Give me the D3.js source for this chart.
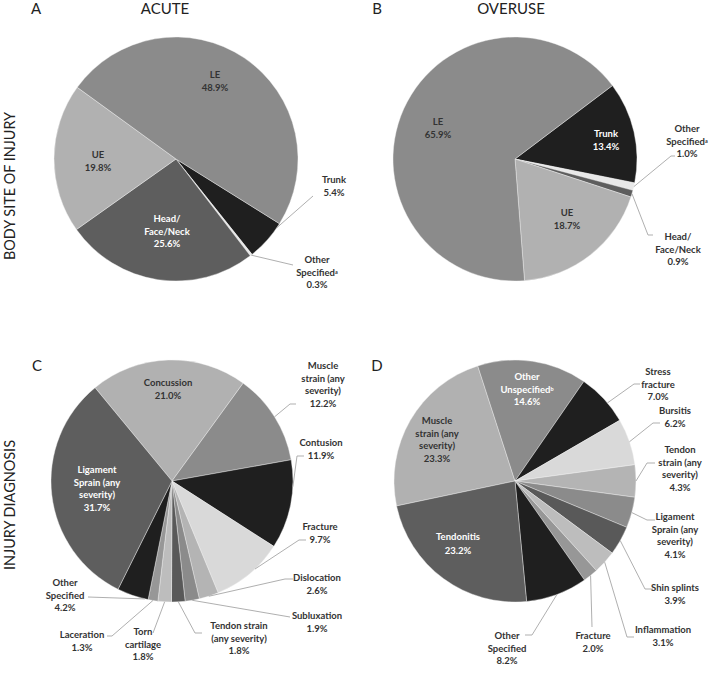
<!DOCTYPE html>
<html><head><meta charset="utf-8">
<script src="https://cdn.jsdelivr.net/npm/d3@7"></script>
<style>body{margin:0;background:#fff}svg{display:block}</style>
</head><body><svg id="chart" width="709" height="693"></svg>
<script>
// ---------- DATA ----------
const siteCategories = ["Trunk", "Other Specified", "Head/Face/Neck", "UE", "LE"];
const acuteSiteValues = [5.4, 0.3, 25.6, 19.8, 48.9];
const overuseSiteValues = [13.4, 1.0, 0.9, 18.7, 65.9];

const acuteDxCategories = ["Concussion", "Muscle strain (any severity)", "Contusion", "Fracture", "Dislocation",
  "Subluxation", "Tendon strain (any severity)", "Torn cartilage", "Laceration", "Other Specified", "Ligament Sprain (any severity)"];
const acuteDxValues = [21.0, 12.2, 11.9, 9.7, 2.6, 1.9, 1.8, 1.8, 1.3, 4.2, 31.7];

const overuseDxCategories = ["Muscle strain (any severity)", "Other Unspecified", "Stress fracture", "Bursitis",
  "Tendon strain (any severity)", "Ligament Sprain (any severity)", "Shin splints", "Inflammation", "Fracture", "Other Specified", "Tendonitis"];
const overuseDxValues = [23.3, 14.6, 7.0, 6.2, 4.3, 4.1, 3.9, 3.1, 2.0, 8.2, 23.2];

// label wording (line breaks as in the figure, ^ = superscript)
const acuteSiteLabels = [["Trunk"], ["Other", "Specified^a"], ["Head/", "Face/Neck"], ["UE"], ["LE"]];
const overuseSiteLabels = [["Trunk"], ["Other", "Specified^a"], ["Head/", "Face/Neck"], ["UE"], ["LE"]];
const acuteDxLabels = [["Concussion"], ["Muscle", "strain (any", "severity)"], ["Contusion"], ["Fracture"], ["Dislocation"],
  ["Subluxation"], ["Tendon strain", "(any severity)"], ["Torn", "cartilage"], ["Laceration"], ["Other", "Specified"], ["Ligament", "Sprain (any", "severity)"]];
const overuseDxLabels = [["Muscle", "strain (any", "severity)"], ["Other", "Unspecified^b"], ["Stress", "fracture"], ["Bursitis"],
  ["Tendon", "strain (any", "severity)"], ["Ligament", "Sprain (any", "severity)"], ["Shin splints"], ["Inflammation"], ["Fracture"], ["Other", "Specified"], ["Tendonitis"]];

// ---------- STYLE / LAYOUT ----------
const BLACK = "#1f1f1f", DARK = "#5e5e5e", MID = "#8b8b8b", LIGHT = "#b1b1b1", VLIGHT = "#d9d9d9", PALE = "#e8e8e8";
const siteShades = [BLACK, PALE, DARK, LIGHT, MID];
const dxShades = [LIGHT, MID, BLACK, VLIGHT, "#b4b4b4", MID, "#595959", "#bdbdbd", "#979797", BLACK, DARK];

// per-slice label layout: pos = text centre offset from pie centre; end = leader end; el = elbow length; fr = angle fraction
const panels = [
  { cx: 176, cy: 159, r: 122, start: 122, values: acuteSiteValues, cats: siteCategories, labels: acuteSiteLabels, shades: siteShades,
    lay: [ {pos: [158, 21], end: [137, 37], el: 0, fr: 0.12},
           {pos: [141, 101], end: [117, 106], el: 0, fr: 0.5},
           {pos: [-9, 60], white: true},
           {pos: [-78, -4]},
           {pos: [39, -84]} ] },
  { cx: 515, cy: 159, r: 122, start: 53, values: overuseSiteValues, cats: siteCategories, labels: overuseSiteLabels, shades: siteShades,
    lay: [ {pos: [91, -25], white: true},
           {pos: [172, -30], end: [160, -3], el: 4, fr: 0.5},
           {pos: [163, 78], end: [138, 76], el: 5, fr: 0.5},
           {pos: [52, 54]},
           {pos: [-77, -37]} ] },
  { cx: 172, cy: 481, r: 121, start: 320.5, values: acuteDxValues, cats: acuteDxCategories, labels: acuteDxLabels, shades: dxShades,
    lay: [ {pos: [-4, -98]},
           {pos: [151, -115], end: [124, -77], el: 6, fr: 0.5},
           {pos: [149, -38], end: [132, -25], el: 7, fr: 0.3},
           {pos: [148, 46], end: [134, 59], el: 7, fr: 0.4},
           {pos: [145, 97], end: [121, 98], el: 8, fr: 0.5},
           {pos: [145, 135], end: [118, 136], el: 0, fr: 0.5},
           {pos: [67, 145], end: [30, 152], el: 7, fr: 0.5},
           {pos: [-29, 151], end: [-19, 152], el: 0, fr: 0.5},
           {pos: [-90, 154], end: [-65, 155], el: 5, fr: 0.5},
           {pos: [-107, 102], end: [-84, 116], el: 0, fr: 0.1},
           {pos: [-75, -11], white: true} ] },
  { cx: 515, cy: 481, r: 121, start: 258.1, values: overuseDxValues, cats: overuseDxCategories, labels: overuseDxLabels, shades: dxShades,
    lay: [ {pos: [-78, -60]},
           {pos: [12, -104], white: true},
           {pos: [143, -109], end: [125, -97], el: 6, fr: 0.6},
           {pos: [160, -70], end: [145, -58], el: 7, fr: 0.5},
           {pos: [165, -31], end: [140, -18], el: 8, fr: 0.5},
           {pos: [160, 36], end: [140, 39], el: 8, fr: 0.5},
           {pos: [160, 107], end: [138, 108], el: 8, fr: 0.5},
           {pos: [148, 149], end: [119, 156], el: 7, fr: 0.5},
           {pos: [78, 155], end: [77, 146], el: 0, fr: 0.5},
           {pos: [-8, 155], end: [10, 154], el: 7, fr: 0.5},
           {pos: [-57, 56], white: true, gap: 13.5} ] }
];

const titles = [
  {t: "A", x: 36, y: 9}, {t: "ACUTE", x: 165, y: 9},
  {t: "B", x: 377, y: 9}, {t: "OVERUSE", x: 511, y: 9},
  {t: "C", x: 37, y: 366}, {t: "D", x: 377, y: 366}
];
const rowTitles = [{t: "BODY SITE OF INJURY", x: 10, y: 186, len: 148}, {t: "INJURY DIAGNOSIS", x: 10, y: 505, len: 130}];

// ---------- DRAW ----------
const svg = d3.select("#chart");
const FONT = "Lato, 'Open Sans', sans-serif";
const rad = Math.PI / 180;

svg.selectAll("text.title").data(titles).join("text")
  .attr("x", d => d.x).attr("y", d => d.y).attr("dy", "0.35em")
  .attr("text-anchor", "middle").attr("font-family", FONT).attr("font-size", 15)
  .attr("fill", "#222").text(d => d.t);

svg.selectAll("text.row").data(rowTitles).join("text")
  .attr("transform", d => `translate(${d.x},${d.y}) rotate(-90)`)
  .attr("dy", "0.35em").attr("text-anchor", "middle").attr("font-family", FONT).attr("font-size", 15)
  .attr("textLength", d => d.len).attr("lengthAdjust", "spacingAndGlyphs")
  .attr("fill", "#222").text(d => d.t);

function writeLines(g, lines, x, y, fill, gap) {
  const t = g.append("text").attr("text-anchor", "middle").attr("font-family", FONT)
    .attr("font-size", 9.5).attr("font-weight", "bold").attr("fill", fill);
  lines.forEach((ln, i) => {
    const parts = ln.split("^");
    const ts = t.append("tspan").attr("x", x).attr("y", y + i * gap).attr("dy", "0.35em").text(parts[0]);
    if (parts[1]) t.append("tspan").attr("font-size", 5.5).attr("dy", "-0.4em").text(parts[1]);
  });
}

panels.forEach(p => {
  const g = svg.append("g").attr("transform", `translate(${p.cx},${p.cy})`);
  const pie = d3.pie().sort(null).value(d => d.v)
    .startAngle(p.start * rad).endAngle(p.start * rad + 2 * Math.PI);
  const arcs = pie(p.values.map((v, i) => ({v, i, cat: p.cats[i]})));
  const arc = d3.arc().innerRadius(0).outerRadius(p.r);

  g.selectAll("path").data(arcs).join("path")
    .attr("d", arc).attr("fill", d => p.shades[d.index])
    .attr("stroke", "#f4f4f4").attr("stroke-width", 0.4)
    .append("title").text(d => `${d.data.cat}: ${d.data.v}%`);

  arcs.forEach(a => {
    const L = p.lay[a.index];
    const lines = p.labels[a.index].concat([a.data.v.toFixed(1) + "%"]);
    const gap = L.gap || 12.4;
    if (L.end) {
      const ang = a.startAngle + (a.endAngle - a.startAngle) * L.fr;
      const sx = p.r * Math.sin(ang), sy = -p.r * Math.cos(ang);
      const dir = L.pos[0] >= 0 ? -1 : 1;
      const pts = [[sx, sy], [L.end[0] + dir * L.el, L.end[1]], L.end];
      g.append("path").attr("d", d3.line()(pts)).attr("fill", "none")
        .attr("stroke", "#a6a6a6").attr("stroke-width", 0.9);
    }
    writeLines(g, lines, L.pos[0], L.pos[1], L.white ? "#ffffff" : "#333333", gap);
  });
});
</script></body></html>
